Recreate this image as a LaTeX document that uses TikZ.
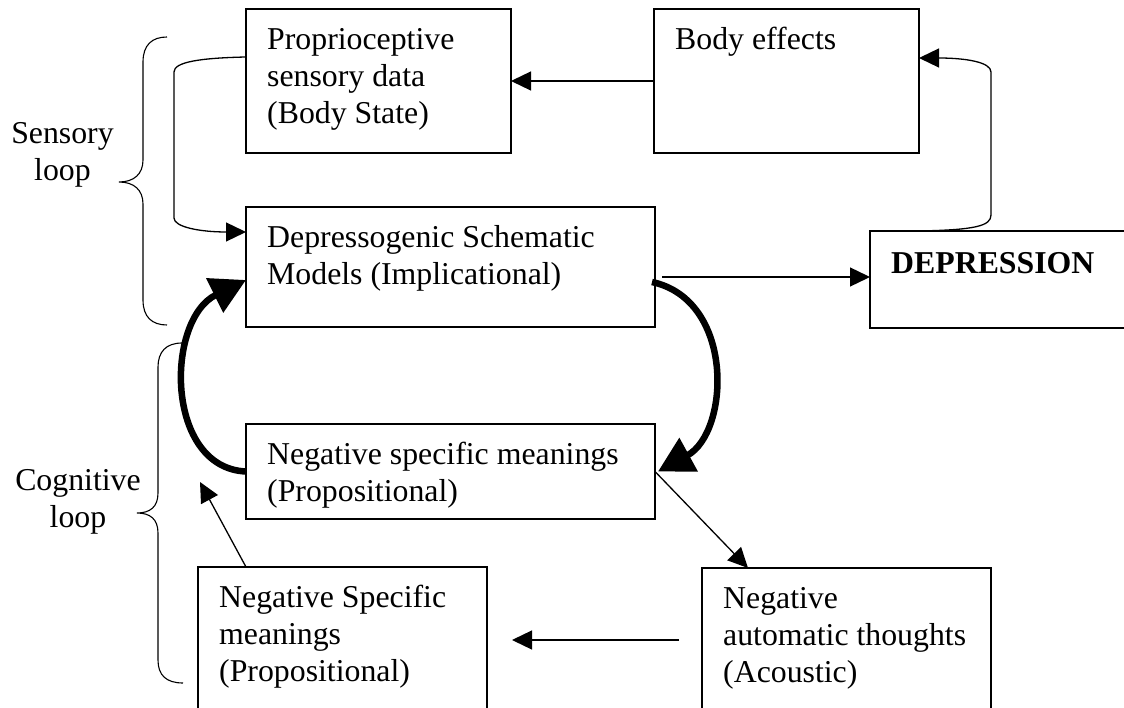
\documentclass[tikz,border=0pt]{standalone}
\usepackage{fontspec}
\setmainfont{Liberation Serif}
\usetikzlibrary{arrows.meta}
\begin{document}
\begin{tikzpicture}[x=1pt,y=-1pt,
  box/.style={draw, line width=1.3pt, outer sep=0pt, inner sep=0pt, anchor=north west},
  txt/.style={anchor=north west, inner sep=0pt, align=left, font=\fontsize{31.8}{37}\selectfont},
  lbl/.style={anchor=north, inner sep=0pt, align=center, font=\fontsize{31.8}{37}\selectfont},
  conn/.style={line width=1.3pt, -{Triangle[length=20pt,width=19pt]}},
  bigconn/.style={line width=6.5pt, -{Triangle[length=35pt,width=37pt]}},
  brace/.style={line width=1.1pt}]
\fill[white] (0,0) rectangle (1124,708);
\useasboundingbox (0,0) rectangle (1124,708);

% boxes
\node[box, minimum width=265pt, minimum height=144pt] (prop) at (246,9) {};
\node[box, minimum width=265pt, minimum height=144pt] (body) at (654,9) {};
\node[box, minimum width=409pt, minimum height=120pt] (dep) at (246,207) {};
\node[box, minimum width=260pt, minimum height=97pt] (depr) at (870,231) {};
\node[box, minimum width=409pt, minimum height=95pt] (nsm) at (246,424) {};
\node[box, minimum width=289pt, minimum height=160pt] (bl) at (198,567) {};
\node[box, minimum width=289pt, minimum height=160pt] (nat) at (702,568) {};

% texts
\node[txt] (propT) at ([xshift=21pt,yshift=-14.1pt]prop.north west) {\strut Proprioceptive\\\strut sensory data\\\strut (Body State)};
\node[txt] (bodyT) at ([xshift=21pt,yshift=-14.1pt]body.north west) {\strut Body effects};
\node[txt] (depT) at ([xshift=21pt,yshift=-14.1pt]dep.north west) {\strut Depressogenic Schematic\\\strut Models (Implicational)};
\node[txt, font=\fontsize{31.8}{37}\selectfont\bfseries] (deprT) at ([xshift=21pt,yshift=-16.1pt]depr.north west) {\strut DEPRESSION};
\node[txt] (nsmT) at ([xshift=21pt,yshift=-14.1pt]nsm.north west) {\strut Negative specific meanings\\\strut (Propositional)};
\node[txt] (blT) at ([xshift=21pt,yshift=-14.1pt]bl.north west) {\strut Negative Specific\\\strut meanings\\\strut (Propositional)};
\node[txt] (natT) at ([xshift=21pt,yshift=-14.1pt]nat.north west) {\strut Negative\\\strut automatic thoughts\\\strut (Acoustic)};

% brace labels
\node[lbl] (sens) at (62.5,117.1) {\strut Sensory\\\strut loop};
\node[lbl] (cog) at (78,464.1) {\strut Cognitive\\\strut loop};

% braces
\draw[brace] (167,37) .. controls (152,37) and (143,45) .. (143,62) -- (143,160)
  .. controls (143,174) and (134,182) .. (119,182)
  .. controls (134,182) and (143,190) .. (143,204) -- (143,300)
  .. controls (143,317) and (152,325) .. (167,325);
\draw[brace] (182,343) .. controls (166,343) and (158,352) .. (158,367) -- (158,493)
  .. controls (158,507) and (150,513) .. (137,513)
  .. controls (150,513) and (158,519) .. (158,533) -- (158,660)
  .. controls (158,675) and (166,683) .. (183,683);

% connectors
\draw[conn] (body.west) -- (prop.east);
\draw[conn] ([yshift=24pt]prop.west) .. controls (200,58) and (174,62) .. (174,72) -- (174,218)
  .. controls (174,227) and (200,232) .. ([yshift=35pt]dep.west);
\draw[conn] ([xshift=48pt]depr.north west) .. controls (975,230) and (991,226) .. (991,215) -- (991,72)
  .. controls (991,62) and (965,58) .. ([yshift=23pt]body.east);
\draw[conn] ([xshift=7pt,yshift=-10pt]dep.east) -- ([yshift=2.5pt]depr.west);
\draw[bigconn] ([xshift=-3pt,yshift=-15pt]dep.east) .. controls (735,300) and (730,432) .. ([xshift=3pt]nsm.east);
\draw[bigconn] (nsm.west) .. controls (165,468) and (165,320) .. ([yshift=-13pt]dep.west);
\draw[conn] (nsm.east) -- ([xshift=46pt]nat.north west);
\coordinate (tipA) at (200,482);
\draw[conn] ([xshift=48pt]bl.north west) -- (tipA);
\coordinate (natL) at (679,640);
\coordinate (blR) at (512,640);
\draw[conn] (natL) -- (blR);
\end{tikzpicture}
\end{document}
